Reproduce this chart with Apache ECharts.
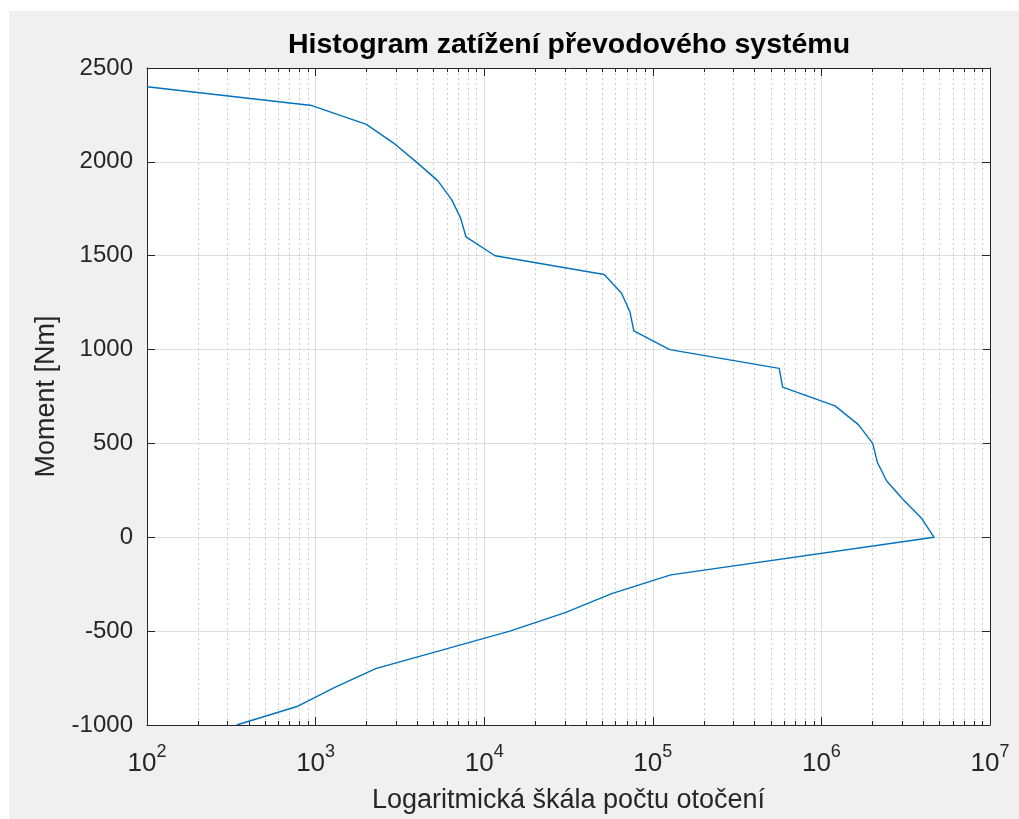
<!DOCTYPE html>
<html>
<head>
<meta charset="utf-8">
<script src="https://cdn.jsdelivr.net/npm/echarts@6/dist/echarts.min.js"></script>
<style>
  html, body { margin: 0; padding: 0; background: #ffffff; }
  #bg { position: absolute; left: 9px; top: 11px; width: 1010px; height: 808px; background: #f0f0f0; }
  #chart { position: absolute; left: 0; top: 0; width: 1019px; height: 819px; }
</style>
</head>
<body>
<div id="bg"></div>
<div id="chart"></div>
<script>
// ---- data ----
const torqueNm = [2400, 2300, 2200, 2100, 2000, 1900, 1800, 1700, 1600, 1500,
                  1400, 1300, 1200, 1100, 1000, 900, 800, 700, 600, 500,
                  400, 300, 200, 100, 0, -200, -300, -400, -500, -700,
                  -800, -900, -1000];
const revolutions = [100, 950, 2000, 2900, 3950, 5300, 6400, 7250, 7800, 11600,
                     51500, 65300, 73200, 77200, 126000, 562000, 589000, 1205000, 1657000, 2015000,
                     2147000, 2440000, 3060000, 3940000, 4660000, 128000, 57000, 30500, 14200, 2270,
                     1300, 785, 340];
const xMin = 100, xMax = 1e7;
const yMin = -1000, yMax = 2500, yStep = 500;
const decades = [2, 3, 4, 5, 6];
const minorFactors = [2, 3, 4, 5, 6, 7, 8, 9];

const minorTicks = [];
decades.forEach(d => minorFactors.forEach(f => minorTicks.push(f * Math.pow(10, d))));

const FONT = "'Liberation Sans', Arial, Helvetica, sans-serif";
const AX = '#262626';

const chart = echarts.init(document.getElementById('chart'), null, { renderer: 'canvas' });

const lineData = revolutions.map((c, i) => [c, torqueNm[i]]);

chart.setOption({
  animation: false,
  backgroundColor: 'transparent',
  title: {
    text: 'Histogram zatížení převodového systému',
    left: 569,
    textAlign: 'center',
    top: 31,
    padding: 0,
    textStyle: { fontFamily: FONT, fontSize: 28.5, fontWeight: 'bold', color: '#000000' }
  },
  grid: {
    left: 147, right: 29, top: 68, bottom: 88,
    show: true, backgroundColor: '#ffffff', borderWidth: 0,
    containLabel: false
  },
  xAxis: [
    {
      type: 'log', logBase: 10, min: xMin, max: xMax, position: 'bottom',
      name: 'Logaritmická škála počtu otočení',
      nameLocation: 'middle', nameGap: 62,
      nameTextStyle: { fontFamily: FONT, fontSize: 27, color: AX },
      axisLine: { show: true, onZero: false, lineStyle: { color: AX, width: 1 } },
      axisTick: { show: true, inside: true, length: 8, lineStyle: { color: AX, width: 1 } },
      splitLine: { show: true, lineStyle: { color: '#dedede', width: 1 } },
      axisLabel: {
        margin: 18,
        formatter: v => '{b|10}{s|' + Math.round(Math.log10(v)) + '}',
        rich: {
          b: { fontFamily: FONT, fontSize: 26, color: AX, lineHeight: 34, verticalAlign: 'bottom' },
          s: { fontFamily: FONT, fontSize: 18, color: AX, lineHeight: 18, verticalAlign: 'top' }
        }
      }
    },
    {
      type: 'log', logBase: 10, min: xMin, max: xMax, position: 'top',
      axisLine: { show: true, onZero: false, lineStyle: { color: AX, width: 1 } },
      axisTick: { show: true, inside: true, length: 8, lineStyle: { color: AX, width: 1 } },
      splitLine: { show: false },
      axisLabel: { show: false }
    }
  ],
  yAxis: [
    {
      type: 'value', min: yMin, max: yMax, interval: yStep, position: 'left',
      name: 'Moment [Nm]',
      nameLocation: 'middle', nameGap: 87,
      nameTextStyle: { fontFamily: FONT, fontSize: 27, color: AX },
      axisLine: { show: true, onZero: false, lineStyle: { color: AX, width: 1 } },
      axisTick: { show: true, inside: true, length: 8, lineStyle: { color: AX, width: 1 } },
      splitLine: { show: true, lineStyle: { color: '#dedede', width: 1 } },
      axisLabel: { margin: 14, fontFamily: FONT, fontSize: 24, color: AX, formatter: v => String(v) }
    },
    {
      type: 'value', min: yMin, max: yMax, interval: yStep, position: 'right',
      axisLine: { show: true, onZero: false, lineStyle: { color: AX, width: 1 } },
      axisTick: { show: true, inside: true, length: 8, lineStyle: { color: AX, width: 1 } },
      splitLine: { show: false },
      axisLabel: { show: false }
    }
  ],
  series: [
    {
      type: 'custom',
      xAxisIndex: 0, yAxisIndex: 0,
      silent: true,
      z: 1,
      encode: { x: 0, y: 1 },
      data: minorTicks.map(v => [v, yMin]),
      renderItem: (params, api) => {
        const v = api.value(0);
        const b = api.coord([v, yMin]);
        const t = api.coord([v, yMax]);
        const x = Math.round(b[0]) + 0.5;
        return {
          type: 'group',
          children: [
            { type: 'line', shape: { x1: x, y1: t[1], x2: x, y2: b[1] },
              style: { stroke: '#cccccc', lineWidth: 1, lineDash: [2, 3] } },
            { type: 'line', shape: { x1: x, y1: b[1], x2: x, y2: b[1] - 4 },
              style: { stroke: AX, lineWidth: 1 } },
            { type: 'line', shape: { x1: x, y1: t[1], x2: x, y2: t[1] + 4 },
              style: { stroke: AX, lineWidth: 1 } }
          ]
        };
      }
    },
    {
      type: 'line',
      xAxisIndex: 0, yAxisIndex: 0,
      z: 5,
      data: lineData,
      symbol: 'none',
      showSymbol: false,
      smooth: false,
      clip: true,
      lineStyle: { color: '#0072BD', width: 1.4 }
    }
  ]
});
</script>
</body>
</html>
